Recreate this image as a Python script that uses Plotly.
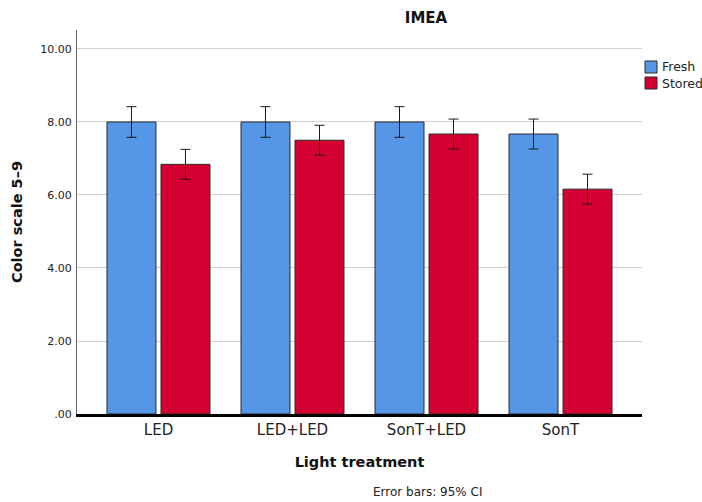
import plotly.graph_objects as go

categories = ["LED", "LED+LED", "SonT+LED", "SonT"]
fresh = [8.00, 8.00, 8.00, 7.67]
stored = [6.84, 7.50, 7.67, 6.16]
fresh_ci = [0.42, 0.42, 0.42, 0.41]
stored_ci = [0.41, 0.41, 0.41, 0.41]
ytick_vals = [0, 2, 4, 6, 8, 10]
ytick_text = [".00", "2.00", "4.00", "6.00", "8.00", "10.00"]
series_names = ["Fresh", "Stored"]
series_colors = ["#5596E6", "#D50032"]

FONT = "DejaVu Sans"
W, H = 702, 502
L, R, T, B = 77, 60, 30, 88
PW, PH = W - L - R, H - T - B

def px(x):
    return (x - L) / PW

def py(y):
    return (H - B - y) / PH

err_style = dict(type="data", thickness=1, width=5, color="#1a1a1a")

fig = go.Figure()
for name, vals, ci, col in zip(series_names, [fresh, stored], [fresh_ci, stored_ci], series_colors):
    fig.add_trace(go.Bar(
        name=name, x=categories, y=vals, showlegend=False,
        error_y=dict(array=ci, **err_style),
        marker=dict(color=col, line=dict(color="#2b2b2b", width=1)),
    ))

# legend (drawn beside the plot, like the original)
shapes = []
annotations = []
for i, (name, col) in enumerate(zip(series_names, series_colors)):
    cy = 67 + 16 * i
    shapes.append(dict(type="rect", xref="paper", yref="paper",
                       x0=px(645), x1=px(657), y0=py(cy - 6), y1=py(cy + 6),
                       fillcolor=col, line=dict(color="#2b2b2b", width=1)))
    annotations.append(dict(text=name, xref="paper", yref="paper",
                            x=px(660), y=py(cy), xanchor="left", yanchor="middle",
                            showarrow=False, font=dict(size=12.5, color="#222")))

annotations.append(dict(text="Error bars: 95% CI", xref="paper", yref="paper",
                        x=px(371), y=py(492), xanchor="left", yanchor="middle",
                        showarrow=False, font=dict(size=12, color="#222")))

fig.update_layout(
    width=W, height=H,
    margin=dict(l=L, r=R, t=T, b=B),
    paper_bgcolor="white", plot_bgcolor="white",
    font=dict(family=FONT, color="#222"),
    barmode="group", bargap=0.194, bargroupgap=0.093,
    showlegend=False,
    title=dict(text="<b>IMEA</b>", font=dict(size=15, color="#111", family=FONT),
               xref="container", x=426/W, xanchor="center",
               yref="container", y=1-18/H, yanchor="middle"),
    xaxis=dict(range=[-0.608, 3.608], showline=True, linecolor="black", linewidth=3,
               ticks="", showgrid=False, tickfont=dict(size=15, color="#222"),
               title=dict(text="<b>Light treatment</b>", font=dict(size=14.5, color="#111"),
                          standoff=19)),
    yaxis=dict(range=[0, 10.52], tickvals=ytick_vals, ticktext=ytick_text,
               showline=True, linecolor="#666", linewidth=1, ticks="",
               ticklabelstandoff=2,
               showgrid=True, gridcolor="#d0d0d0", gridwidth=1, zeroline=False,
               tickfont=dict(size=11, color="#222"),
               title=dict(text="<b>Color scale 5–9</b>", font=dict(size=14.5, color="#111"),
                          standoff=14)),
    shapes=shapes,
    annotations=annotations,
)

fig.write_html("out.html", config={"displayModeBar": False},
               post_script="document.body.style.margin='0px';")
